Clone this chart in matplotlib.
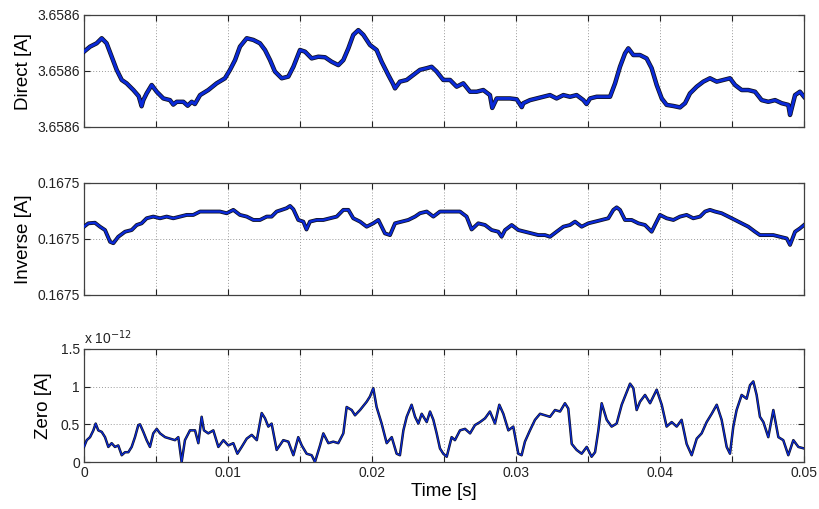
import numpy as np
import matplotlib
matplotlib.use("Agg")
import matplotlib.pyplot as plt
from matplotlib.ticker import FormatStrFormatter, FuncFormatter, FixedLocator

plt.rcParams['font.family'] = ['Liberation Sans', 'DejaVu Sans']

# ---- data ----
direct_base = 3.6586  # A
direct_t_ms = [0.00, 0.42, 0.88, 1.23, 1.57, 1.92, 2.27, 2.62, 2.96, 3.43, 3.80, 4.00, 4.12, 4.35, 4.70, 5.05, 5.51,
               5.97, 6.20, 6.44, 6.90, 7.20, 7.48, 7.70, 8.06, 8.63, 9.21, 9.79, 10.14, 10.49, 10.83, 11.30, 11.76, 12.22,
               12.57, 12.92, 13.26, 13.73, 14.19, 14.54, 15.00, 15.35, 15.81, 16.27, 16.74, 17.20, 17.66,
               18.01, 18.36, 18.70, 19.05, 19.40, 19.86, 20.32, 20.67, 21.13, 21.45, 21.60, 21.94, 22.41, 22.87,
               23.33, 23.80, 24.14, 24.49, 24.95, 25.42, 25.88, 26.34, 26.81, 27.27, 27.73, 28.19, 28.35, 28.66,
               29.12, 29.58, 30.05, 30.40, 30.51, 30.97, 31.44, 31.90, 32.36, 32.82, 33.29, 33.75, 34.21, 34.68,
               34.90, 35.14, 35.60, 36.06, 36.53, 36.88, 37.22, 37.57, 37.80, 38.15, 38.61, 39.07, 39.42, 39.77,
               40.12, 40.46, 40.93, 41.39, 41.74, 42.08, 42.55, 43.01, 43.47, 43.94, 44.40, 44.86, 45.21,
               45.67, 46.13, 46.60, 47.06, 47.52, 47.99, 48.45, 48.91, 49.03, 49.38, 49.72, 50.00]
direct_dev_uA = [6.9, 8.7, 9.9, 11.7, 9.9, 5.1, 0.4, -3.2, -4.4, -6.8, -9.0, -12.6, -10.4, -8.0, -5.0, -7.4, -9.8,
                 -10.4, -12.0, -11.0, -11.0, -12.4, -11.0, -11.8, -8.6, -6.8, -4.4, -2.6, 0.4, 3.9, 8.7, 11.7, 11.1, 9.9,
                 7.5, 3.9, -0.2, -2.6, -2.0, 1.5, 7.5, 6.9, 4.5, 5.1, 4.9, 3.3, 2.1,
                 3.9, 8.1, 12.9, 14.6, 12.9, 9.3, 7.5, 3.3, -1.4, -4.5, -6.2, -3.8, -3.2, -1.4,
                 0.4, 1.0, 1.5, -0.2, -3.2, -3.2, -5.6, -4.4, -7.4, -7.4, -6.8, -8.6, -13.2, -9.8,
                 -9.8, -9.8, -10.1, -12.9, -11.5, -10.4, -9.8, -9.2, -8.6, -9.8, -8.6, -9.2, -8.6, -10.4,
                 -11.8, -9.8, -9.2, -9.2, -9.2, -4.4, 1.5, 6.3, 8.1, 5.7, 5.7, 4.5, 1.0, -5.0,
                 -9.8, -12.1, -12.5, -13.0, -11.5, -8.0, -5.6, -3.8, -2.6, -3.8, -3.2, -2.6, -5.0,
                 -6.8, -6.8, -7.4, -10.4, -11.0, -10.4, -11.5, -12.1, -15.7, -8.6, -7.4, -9.2]

inverse_base = 0.1675  # A
inverse_t_ms = [0.00, 0.30, 0.76, 1.11, 1.46, 1.81, 2.04, 2.38, 2.85, 3.31, 3.66, 4.00, 4.35, 4.81, 5.28,
                5.74, 6.20, 6.67, 7.13, 7.59, 8.06, 8.52, 8.98, 9.44, 9.91, 10.37, 10.83, 11.30, 11.76,
                12.22, 12.69, 13.03, 13.38, 13.73, 14.07, 14.31, 14.54, 14.88, 15.23, 15.45, 15.69, 16.16, 16.62,
                17.08, 17.55, 18.01, 18.36, 18.70, 19.17, 19.63, 20.09, 20.44, 20.90, 21.25, 21.60, 22.06,
                22.52, 22.99, 23.33, 23.80, 24.26, 24.72, 25.19, 25.65, 26.11, 26.57, 26.92, 27.38, 27.85,
                28.31, 28.77, 29.00, 29.24, 29.70, 30.16, 30.62, 31.09, 31.55, 32.01, 32.36, 32.82, 33.29, 33.75,
                34.10, 34.56, 35.02, 35.49, 35.95, 36.41, 36.76, 36.99, 37.22, 37.57, 38.03, 38.50, 38.96,
                39.42, 39.65, 40.00, 40.46, 40.93, 41.39, 41.85, 42.31, 42.78, 43.13, 43.47, 43.82, 44.28,
                44.75, 45.21, 45.67, 46.13, 46.60, 46.94, 47.41, 47.87, 48.33, 48.80, 49.03, 49.38, 49.72,
                50.00]
inverse_dev_uA = [4.4, 5.6, 5.8, 4.4, 3.2, -1.0, -1.5, 0.8, 2.6, 3.2, 5.0, 5.6, 7.4, 8.0, 7.4,
                  8.0, 7.4, 8.0, 8.6, 8.6, 9.8, 9.8, 9.8, 9.8, 9.2, 10.4, 8.6, 8.0, 6.8,
                  6.8, 8.0, 8.0, 9.8, 10.4, 11.0, 11.8, 10.6, 6.8, 6.2, 3.4, 6.2, 6.8, 6.8,
                  7.4, 8.0, 10.4, 10.4, 7.4, 6.2, 4.4, 5.6, 6.8, 2.0, 1.4, 5.6, 6.2,
                  6.8, 8.0, 9.2, 9.8, 8.0, 9.8, 9.8, 9.8, 9.8, 8.0, 3.4, 5.6, 5.0,
                  3.2, 2.6, 0.8, 3.2, 5.0, 3.2, 2.6, 2.0, 1.4, 1.4, 0.8, 2.6, 4.4, 5.0,
                  6.2, 4.4, 5.6, 6.2, 6.8, 7.4, 10.4, 11.3, 10.4, 6.8, 6.8, 5.6, 5.0,
                  2.6, 5.0, 8.6, 7.4, 6.8, 8.0, 8.6, 7.4, 8.0, 9.8, 10.4, 9.8, 9.2,
                  8.0, 6.8, 5.6, 4.4, 2.6, 1.4, 1.4, 1.4, 0.8, 0.2, -2.1, 2.6, 3.8,
                  5.0]

zero_t_ms = [0.00, 0.19, 0.42, 0.65, 0.81, 0.99, 1.23, 1.46, 1.69, 1.92, 2.15, 2.38, 2.62, 2.85, 3.08,
             3.31, 3.54, 3.77, 3.89, 4.12, 4.35, 4.58, 4.81, 5.05, 5.28, 5.63, 5.97, 6.32, 6.55, 6.78,
             7.01, 7.36, 7.71, 7.94, 8.17, 8.33, 8.63, 8.98, 9.33, 9.68, 10.02, 10.37, 10.65, 10.95,
             11.30, 11.65, 12.00, 12.34, 12.57, 12.80, 13.03, 13.38, 13.84, 14.19, 14.54, 14.88, 15.12,
             15.46, 15.81, 16.04, 16.39, 16.62, 16.97, 17.31, 17.66, 18.01, 18.24, 18.59, 18.82, 19.17,
             19.63, 19.86, 20.09, 20.32, 20.67, 21.02, 21.37, 21.71, 21.94, 22.18, 22.41, 22.75, 22.99,
             23.22, 23.45, 23.80, 24.03, 24.26, 24.49, 24.72, 24.95, 25.19, 25.53, 25.76, 26.11, 26.46,
             26.81, 27.15, 27.50, 27.85, 28.19, 28.54, 28.84, 29.12, 29.47, 29.81, 30.16, 30.39, 30.62,
             30.97, 31.32, 31.67, 32.01, 32.36, 32.71, 33.06, 33.40, 33.63, 33.87, 34.21, 34.56, 34.91,
             35.25, 35.49, 35.72, 35.95, 36.30, 36.64, 36.99, 37.34, 37.69, 37.92, 38.15, 38.38, 38.61,
             38.96, 39.31, 39.77, 40.12, 40.46, 40.81, 41.16, 41.50, 41.85, 42.20, 42.55, 42.89, 43.24,
             43.59, 43.94, 44.28, 44.63, 44.86, 45.09, 45.32, 45.67, 46.02, 46.25, 46.48, 46.71, 46.94,
             47.18, 47.52, 47.87, 48.22, 48.56, 48.91, 49.26, 49.61, 50.00]
zero_pA = [0.20, 0.29, 0.33, 0.42, 0.51, 0.42, 0.40, 0.33, 0.20, 0.25, 0.20, 0.22, 0.09, 0.13, 0.13,
           0.20, 0.33, 0.49, 0.50, 0.40, 0.29, 0.20, 0.38, 0.44, 0.38, 0.33, 0.31, 0.29, 0.33, 0.00,
           0.29, 0.42, 0.42, 0.25, 0.60, 0.42, 0.38, 0.42, 0.20, 0.29, 0.22, 0.25, 0.11, 0.20,
           0.31, 0.36, 0.29, 0.65, 0.58, 0.47, 0.51, 0.16, 0.29, 0.27, 0.09, 0.33, 0.22,
           0.11, 0.09, 0.00, 0.22, 0.38, 0.25, 0.27, 0.25, 0.38, 0.73, 0.69, 0.62, 0.69,
           0.80, 0.87, 0.98, 0.73, 0.51, 0.25, 0.33, 0.11, 0.09, 0.42, 0.60, 0.76, 0.60,
           0.51, 0.64, 0.53, 0.67, 0.56, 0.38, 0.18, 0.11, 0.07, 0.33, 0.29, 0.42, 0.44,
           0.38, 0.49, 0.53, 0.58, 0.67, 0.51, 0.76, 0.64, 0.42, 0.47, 0.11, 0.09, 0.27,
           0.42, 0.56, 0.64, 0.62, 0.60, 0.69, 0.67, 0.78, 0.71, 0.24, 0.16, 0.11, 0.20,
           0.07, 0.13, 0.42, 0.78, 0.56, 0.47, 0.51, 0.76, 0.93, 1.04, 0.98, 0.69, 0.80,
           0.89, 0.78, 0.96, 0.76, 0.47, 0.53, 0.47, 0.56, 0.24, 0.09, 0.31, 0.38, 0.53,
           0.64, 0.76, 0.56, 0.20, 0.11, 0.47, 0.69, 0.89, 0.84, 1.02, 1.07, 0.89, 0.60,
           0.53, 0.33, 0.69, 0.33, 0.29, 0.09, 0.29, 0.20, 0.18]

x_ticks = [0, 0.005, 0.01, 0.015, 0.02, 0.025, 0.03, 0.035, 0.04, 0.045, 0.05]
x_tick_labels = ['0', '', '0.01', '', '0.02', '', '0.03', '', '0.04', '', '0.05']
zero_ticks_pA = [0, 0.5, 1, 1.5]

# ---- figure ----
W, H = 819, 509
fig = plt.figure(figsize=(W / 100, H / 100), dpi=100)

def box(l, t, r, b):
    return [l / W, 1 - b / H, (r - l) / W, (b - t) / H]

ax1 = fig.add_axes(box(84, 15, 804, 127))
ax2 = fig.add_axes(box(84, 183, 804, 295))
ax3 = fig.add_axes(box(84, 349, 804, 462))

BLUE = '#0a2ad8'
frame_col = '#404040'

def style(ax):
    ax.set_xlim(0, 0.05)
    ax.xaxis.set_major_locator(FixedLocator(x_ticks))
    ax.grid(True, linestyle=(0, (1, 2)), color='#9a9a9a', linewidth=0.7)
    ax.tick_params(direction='in', top=True, right=True, length=4, width=0.8,
                   labelsize=10, colors='#222222', pad=3)
    for s in ax.spines.values():
        s.set_color(frame_col)
        s.set_linewidth(0.9)

def trace(ax, t_ms, y, wide, narrow):
    t = np.asarray(t_ms) / 1000.0
    ax.plot(t, y, color='#101018', lw=wide, zorder=3)
    ax.plot(t, y, color=BLUE, lw=narrow, zorder=4)

# Direct
d = direct_base + np.asarray(direct_dev_uA) * 1e-6
trace(ax1, direct_t_ms, d, 3.2, 2.1)
style(ax1)
ax1.set_ylim(direct_base - 2e-5, direct_base + 2e-5)
ax1.set_yticks([direct_base - 2e-5, direct_base, direct_base + 2e-5])
ax1.yaxis.set_major_formatter(FormatStrFormatter('%.4f'))
ax1.set_xticklabels([])
ax1.set_ylabel('Direct [A]', fontsize=13.5, labelpad=4)

# Inverse
iv = inverse_base + np.asarray(inverse_dev_uA) * 1e-6
trace(ax2, inverse_t_ms, iv, 2.8, 1.7)
style(ax2)
ax2.set_ylim(inverse_base - 2e-5, inverse_base + 2e-5)
ax2.set_yticks([inverse_base - 2e-5, inverse_base, inverse_base + 2e-5])
ax2.yaxis.set_major_formatter(FormatStrFormatter('%.4f'))
ax2.set_xticklabels([])
ax2.set_ylabel('Inverse [A]', fontsize=13.5, labelpad=4)

# Zero
z = np.asarray(zero_pA) * 1e-12
trace(ax3, zero_t_ms, z, 1.8, 0.9)
style(ax3)
ax3.set_ylim(0, 1.5e-12)
ax3.set_yticks([v * 1e-12 for v in zero_ticks_pA])
ax3.yaxis.set_major_formatter(FuncFormatter(lambda v, p: '%g' % round(v * 1e12, 3)))
ax3.text(0.0, 1.015, r'x 10$^{-12}$', transform=ax3.transAxes, fontsize=10,
         ha='left', va='bottom', color='#222222')
ax3.set_xticklabels(x_tick_labels)
ax3.set_ylabel('Zero [A]', fontsize=13.5, labelpad=6)
ax3.set_xlabel('Time [s]', fontsize=13.5, labelpad=2)

fig.savefig('out.png', dpi=100)
